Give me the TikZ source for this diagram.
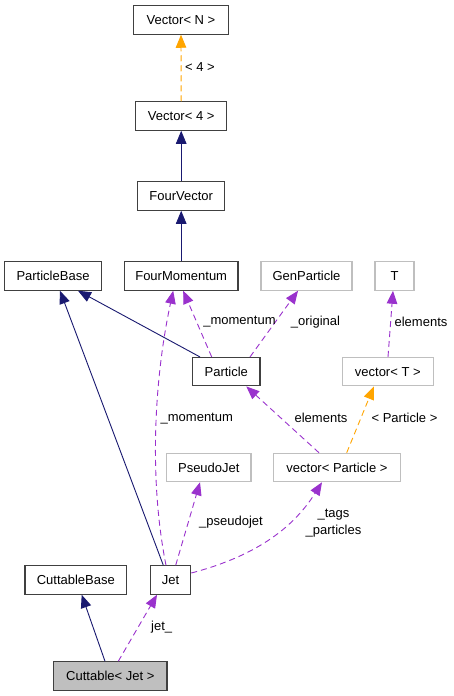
\documentclass[tikz,border=0pt]{standalone}
\usepackage{fontspec}
\setmainfont{Liberation Sans}
\usetikzlibrary{arrows.meta}
\definecolor{edgeblue}{HTML}{191970}
\definecolor{edgepurple}{HTML}{9A32CD}
\definecolor{edgeorange}{HTML}{FFA500}
\definecolor{undoc}{HTML}{BFBFBF}
\definecolor{docborder}{HTML}{404040}
\definecolor{curfill}{HTML}{BFBFBF}
\begin{document}
\begin{tikzpicture}[x=1pt,y=-1pt,
  every node/.style={font=\fontsize{13}{17.4}\selectfont, inner sep=0pt},
  cls/.style={draw=docborder, line width=1.2pt, minimum height=28.3pt, fill=white},
  ucls/.style={draw=undoc, line width=1.2pt, minimum height=28.3pt, fill=white},
  tip/.style={-{Triangle[length=13pt,width=10.5pt]}},
  inh/.style={draw=edgeblue, line width=0.9pt, tip},
  usage/.style={draw=edgepurple, line width=0.9pt, dash pattern=on 6pt off 4pt, tip},
  tmpl/.style={draw=edgeorange, line width=0.9pt, dash pattern=on 6pt off 4pt, tip},
  lbl/.style={text=black}
]
\useasboundingbox[fill=white] (0,0) rectangle (453,696);

% nodes
\node[cls, minimum width=95.5pt] (vecN) at (181,20) {Vector< N >};
\node[cls, minimum width=91pt] (vec4) at (181.2,116) {Vector< 4 >};
\node[cls, minimum width=87pt] (fourvec) at (181.2,196) {FourVector};
\node[cls, minimum width=96.6pt] (pbase) at (53,276) {ParticleBase};
\node[cls, minimum width=113.7pt] (fmom) at (181.2,276) {FourMomentum};
\node[ucls, minimum width=91pt] (genp) at (306.5,276) {GenParticle};
\node[ucls, minimum width=39pt] (T) at (394.5,276) {T};
\node[cls, minimum width=67.3pt] (particle) at (226.3,371.7) {Particle};
\node[ucls, minimum width=91pt] (vecT) at (387.8,371.7) {vector< T >};
\node[ucls, minimum width=84.3pt] (pjet) at (208.8,467.5) {PseudoJet};
\node[ucls, minimum width=127.4pt] (vecP) at (337,467.5) {vector< Particle >};
\node[cls, minimum width=101.7pt] (cbase) at (75.8,580) {CuttableBase};
\node[cls, minimum width=40.4pt] (jet) at (170.5,580) {Jet};
\node[cls, minimum width=113.3pt, fill=curfill] (cjet) at (110.3,676) {Cuttable< Jet >};

% edges
\draw[tmpl] (vec4.north) -- (vecN.south);
\draw[inh] (fourvec.north) -- (vec4.south);
\draw[inh] (fmom.north) -- (fourvec.south);
\draw[inh] ([xshift=-26.3pt]particle.north) -- ([xshift=25pt]pbase.south);
\draw[usage] ([xshift=-14.6pt]particle.north) -- ([xshift=2pt]fmom.south);
\draw[usage] ([xshift=23.7pt]particle.north) -- ([xshift=-8.5pt]genp.south);
\draw[usage] ([xshift=0.2pt]vecT.north) -- ([xshift=-1.5pt]T.south);
\draw[usage] ([xshift=-18pt]vecP.north) -- ([xshift=20pt]particle.south);
\draw[tmpl] ([xshift=9.7pt]vecP.north) -- ([xshift=-14pt]vecT.south);
\draw[inh] ([xshift=-7.2pt]jet.north) -- ([xshift=7pt]pbase.south);
\draw[usage] ([xshift=-4.5pt]jet.north) .. controls (149,480) and (154,380) .. ([xshift=-8pt]fmom.south);
\draw[usage] ([xshift=5.2pt]jet.north) -- ([xshift=-8.8pt]pjet.south);
\draw[usage] ([yshift=7pt]jet.east) .. controls (260,555) and (295,525) .. ([xshift=-15pt]vecP.south);
\draw[inh] ([xshift=-5.3pt]cjet.north) -- ([xshift=5.9pt]cbase.south);
\draw[usage] ([xshift=8pt]cjet.north) -- ([xshift=-13.5pt]jet.south);

% labels
\node[lbl] (l4) at (200,67) {< 4 >};
\node[lbl] (lmom1) at (239.5,322) {\_momentum};
\node[lbl] (lorig) at (315.5,322) {\_original};
\node[lbl] (lelT) at (421,322) {elements};
\node[lbl] (lelP) at (321,418) {elements};
\node[lbl] (lpart) at (404.5,418) {< Particle >};
\node[lbl] (lmom2) at (196.8,419) {\_momentum};
\node[lbl] (lpj) at (231,522) {\_pseudojet};
\node[lbl, align=center] (ltags) at (333.5,523) {\_tags\\\_particles};
\node[lbl] (ljet) at (161.7,626.7) {jet\_};
\end{tikzpicture}
\end{document}
